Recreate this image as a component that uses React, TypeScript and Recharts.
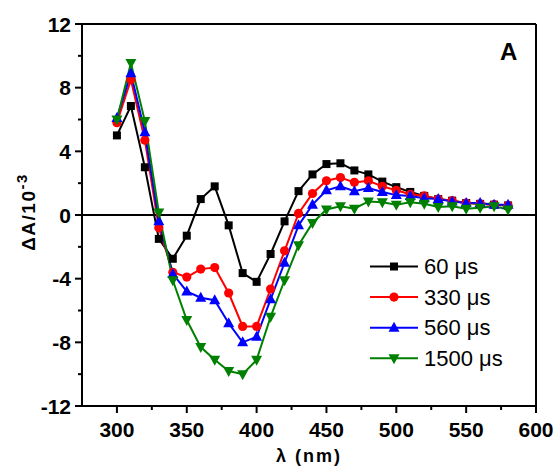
import React from 'react';
import { LineChart, Line, XAxis, YAxis, ReferenceLine, Legend, Customized } from 'recharts';

const wavelengths = [300, 310, 320, 330, 340, 350, 360, 370, 380, 390, 400, 410, 420, 430, 440, 450, 460, 470, 480, 490, 500, 510, 520, 530, 540, 550, 560, 570, 580];
const series60 = [5.0, 6.85, 3.0, -1.5, -2.75, -1.3, 1.0, 1.8, -0.65, -3.65, -4.2, -2.45, -0.4, 1.5, 2.55, 3.2, 3.25, 2.8, 2.55, 2.1, 1.75, 1.45, 1.2, 1.0, 0.9, 0.75, 0.7, 0.65, 0.6];
const series330 = [5.8, 8.5, 4.7, -0.8, -3.6, -3.9, -3.4, -3.3, -4.9, -7.0, -7.0, -4.65, -2.25, 0.1, 1.35, 2.15, 2.35, 2.05, 2.15, 1.8, 1.55, 1.3, 1.2, 1.0, 0.9, 0.75, 0.7, 0.65, 0.6];
const series560 = [6.1, 8.9, 5.2, -0.4, -3.7, -4.8, -5.2, -5.35, -6.8, -8.0, -7.65, -5.3, -3.0, -0.65, 0.65, 1.55, 1.8, 1.5, 1.7, 1.45, 1.25, 1.2, 1.05, 1.0, 0.85, 0.75, 0.75, 0.65, 0.65];
const series1500 = [6.0, 9.55, 5.9, 0.15, -4.1, -6.6, -8.3, -9.1, -9.8, -10.0, -9.1, -6.4, -4.1, -1.9, -0.5, 0.35, 0.55, 0.4, 0.85, 0.8, 0.65, 0.8, 0.7, 0.5, 0.55, 0.4, 0.45, 0.55, 0.35];

const seriesLabels = ['60 μs', '330 μs', '560 μs', '1500 μs'];
const xTicks = [300, 325, 350, 375, 400, 425, 450, 475, 500, 525, 550, 575, 600];
const xMajorTicks = [300, 350, 400, 450, 500, 550, 600];
const yTicks = [-12, -10, -8, -6, -4, -2, 0, 2, 4, 6, 8, 10, 12];
const yMajorTicks = [-12, -8, -4, 0, 4, 8, 12];

const data = wavelengths.map((w, i) => ({
  w,
  s60: series60[i],
  s330: series330[i],
  s560: series560[i],
  s1500: series1500[i],
}));

const FONT = '"Liberation Sans", Arial, sans-serif';

type Shape = 'square' | 'circle' | 'up' | 'down';

const Marker = ({ shape, cx, cy, color }: { shape: Shape; cx: number; cy: number; color: string }) => {
  if (shape === 'square') return <rect x={cx - 4} y={cy - 4} width={8} height={8} fill={color} />;
  if (shape === 'circle') return <circle cx={cx} cy={cy} r={4.6} fill={color} />;
  if (shape === 'up')
    return <polygon points={`${cx},${cy - 6} ${cx - 5.5},${cy + 4} ${cx + 5.5},${cy + 4}`} fill={color} />;
  return <polygon points={`${cx},${cy + 6} ${cx - 5.5},${cy - 4} ${cx + 5.5},${cy - 4}`} fill={color} />;
};

const makeDot = (shape: Shape, color: string) => (props: any) => {
  const { cx, cy, index } = props;
  if (cx == null || cy == null) return <g key={`e-${shape}-${index}`} />;
  return (
    <g key={`d-${shape}-${index}`}>
      <Marker shape={shape} cx={cx} cy={cy} color={color} />
    </g>
  );
};

const XTick = (props: any) => {
  const { x, y, payload } = props;
  const v = payload.value;
  const major = xMajorTicks.includes(v);
  return (
    <g>
      <line x1={x} x2={x} y1={y} y2={y + (major ? 7 : 4)} stroke="#000" strokeWidth={2} />
      {major && (
        <text x={x} y={y + 31} textAnchor="middle" fontSize={21} fontWeight="bold" fontFamily={FONT} fill="#000">
          {v}
        </text>
      )}
    </g>
  );
};

const YTick = (props: any) => {
  const { x, y, payload } = props;
  const v = payload.value;
  const major = yMajorTicks.includes(v);
  return (
    <g>
      <line x1={x} x2={x - (major ? 7 : 4)} y1={y} y2={y} stroke="#000" strokeWidth={2} />
      {major && (
        <text x={x - 11} y={y + 7.5} textAnchor="end" fontSize={21} fontWeight="bold" fontFamily={FONT} fill="#000">
          {v}
        </text>
      )}
    </g>
  );
};

const legendItems: { label: string; color: string; shape: Shape }[] = [
  { label: seriesLabels[0], color: '#000000', shape: 'square' },
  { label: seriesLabels[1], color: '#ff0000', shape: 'circle' },
  { label: seriesLabels[2], color: '#0000ff', shape: 'up' },
  { label: seriesLabels[3], color: '#008000', shape: 'down' },
];

const LegendContent = () => (
  <svg width={200} height={125} style={{ display: 'block' }}>
    {legendItems.map((it, i) => {
      const cy = 16.5 + i * 30.6;
      return (
        <g key={i}>
          <line x1={10} x2={58} y1={cy} y2={cy} stroke={it.color} strokeWidth={2} />
          <Marker shape={it.shape} cx={34} cy={cy} color={it.color} />
          <text x={64} y={cy + 7.5} fontSize={22} fontFamily={FONT} fill="#000">
            {it.label}
          </text>
        </g>
      );
    })}
  </svg>
);

const Labels = () => (
  <g>
    <text x={500} y={60} fontSize={24} fontWeight="bold" fontFamily={FONT} fill="#000">
      A
    </text>
    <text
      x={309}
      y={462}
      textAnchor="middle"
      fontSize={18}
      fontWeight="bold"
      fontFamily={FONT}
      letterSpacing={2}
      fill="#000"
    >
      λ (nm)
    </text>
    <text
      transform="translate(35,212) rotate(-90)"
      textAnchor="middle"
      fontSize={19}
      fontWeight="bold"
      fontFamily={FONT}
      letterSpacing={1.5}
      fill="#000"
    >
      ΔA/10
      <tspan fontSize={15} dy={-8}>
        -3
      </tspan>
    </text>
  </g>
);

export default function App() {
  return (
    <div style={{ position: 'absolute', left: 0, top: 0, width: 558, height: 476, background: '#fff' }}>
      <LineChart width={558} height={476} data={data} margin={{ top: 24, right: 22, bottom: 0, left: 0 }}>
        <XAxis
          dataKey="w"
          type="number"
          domain={[275, 600]}
          ticks={xTicks}
          interval={0}
          height={70}
          tickSize={0}
          tickMargin={0}
          tick={<XTick />}
          axisLine={{ stroke: '#000', strokeWidth: 2 }}
          tickLine={false}
          allowDataOverflow
        />
        <YAxis
          type="number"
          domain={[-12, 12]}
          ticks={yTicks}
          interval={0}
          width={82}
          tickSize={0}
          tickMargin={0}
          tick={<YTick />}
          axisLine={{ stroke: '#000', strokeWidth: 2 }}
          tickLine={false}
          allowDataOverflow
        />
        <ReferenceLine y={12} stroke="#000" strokeWidth={2} />
        <ReferenceLine x={600} stroke="#000" strokeWidth={2} />
        <ReferenceLine y={0} stroke="#000" strokeWidth={2} />
        <Line dataKey="s60" stroke="#000000" strokeWidth={2} dot={makeDot('square', '#000000')} isAnimationActive={false} />
        <Line dataKey="s330" stroke="#ff0000" strokeWidth={2} dot={makeDot('circle', '#ff0000')} isAnimationActive={false} />
        <Line dataKey="s560" stroke="#0000ff" strokeWidth={2} dot={makeDot('up', '#0000ff')} isAnimationActive={false} />
        <Line dataKey="s1500" stroke="#008000" strokeWidth={2} dot={makeDot('down', '#008000')} isAnimationActive={false} />
        <Legend
          layout="horizontal"
          verticalAlign="middle"
          align="center"
          content={<LegendContent />}
          wrapperStyle={{ position: 'absolute', left: 360, top: 250, width: 200, height: 125 }}
        />
        <Customized component={<Labels />} />
      </LineChart>
    </div>
  );
}
